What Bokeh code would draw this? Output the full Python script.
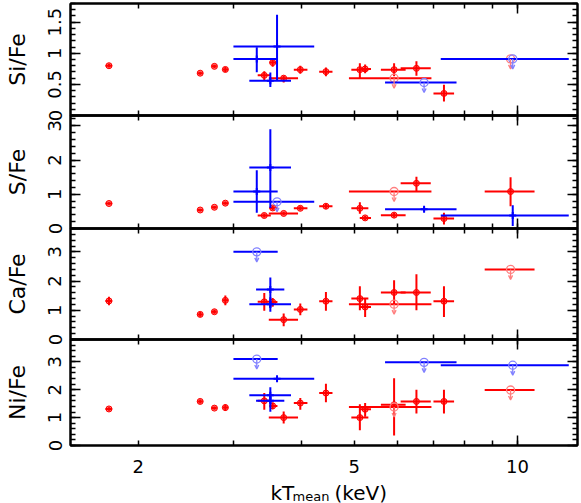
import numpy as np
from bokeh.plotting import figure
from bokeh.layouts import column
from bokeh.models import (ColumnDataSource, FixedTicker, LinearAxis, LogAxis,
                          Range1d, Label, Arrow, OpenHead, CustomJSTickFormatter)
from bokeh.embed import file_html
from bokeh.resources import INLINE

# ---------------- data ----------------
red_kT    = [1.766, 2.601, 2.763, 2.894, 3.414, 3.538, 3.707, 3.978, 4.435, 5.122, 5.238, 5.923, 6.512, 7.319, 5.923, 9.71]
red_kT_lo = [1.74, 2.57, 2.73, 2.86, 3.32, 3.49, 3.48, 3.87, 4.31, 4.94, 5.12, 5.60, 6.09, 7.00, 4.89, 8.70]
red_kT_hi = [1.79, 2.63, 2.79, 2.93, 3.51, 3.61, 3.94, 4.10, 4.56, 5.31, 5.37, 6.22, 6.92, 7.64, 6.94, 10.75]

blue_kT    = [3.307, 3.604, 3.503, 3.503, 6.727, 9.80]
blue_kT_lo = [2.995, 2.995, 3.204, 3.297, 5.70, 7.22]
blue_kT_hi = [3.614, 4.22, 3.824, 3.717, 7.72, 12.43]

# Si/Fe
si_red    = [0.80, 0.68, 0.79, 0.74, 0.645, 0.85, 0.60, 0.737, 0.705, 0.737, 0.748, 0.737, 0.758, 0.355, 0.60, 0.91]
si_red_lo = [0.77, 0.655, 0.765, 0.70, 0.57, 0.785, 0.53, 0.67, 0.63, 0.60, 0.68, 0.63, 0.64, 0.226, None, None]
si_red_hi = [0.83, 0.705, 0.815, 0.78, 0.71, 0.91, 0.64, 0.80, 0.77, 0.84, 0.82, 0.84, 0.87, 0.495, None, None]
si_red_ul = [0] * 14 + [1, 1]
si_blue    = [0.91, 1.108, 0.56, None, 0.53, 0.91]
si_blue_lo = [0.694, 0.56, 0.46, None, None, None]
si_blue_hi = [1.097, 1.62, 0.69, None, None, None]
si_blue_ul = [0, 0, 0, 0, 1, 1]

# S/Fe
s_red    = [0.73, 0.54, 0.62, 0.74, 0.38, 0.60, 0.44, 0.59, 0.65, 0.59, 0.31, 0.39, 1.32, 0.29, 1.08, 1.08]
s_red_lo = [0.69, 0.50, 0.58, 0.69, 0.32, 0.54, 0.39, 0.53, 0.58, 0.43, 0.25, 0.32, 1.09, 0.12, None, 0.65]
s_red_hi = [0.77, 0.58, 0.66, 0.79, 0.44, 0.66, 0.49, 0.65, 0.72, 0.77, 0.37, 0.46, 1.51, 0.46, None, 1.50]
s_red_ul = [0] * 14 + [1, 0]
s_blue    = [1.08, 0.78, 1.78, None, 0.56, 0.38]
s_blue_lo = [0.46, None, 0.60, None, 0.50, 0.07]
s_blue_hi = [1.70, None, 2.90, None, 0.62, 0.68]
s_blue_ul = [0, 1, 0, 0, 0, 0]

# Ca/Fe
ca_red    = [1.32, 0.86, 0.95, 1.34, 1.29, 1.28, 0.68, 1.03, 1.31, 1.40, 1.11, 1.61, 1.61, 1.31, 1.21, 2.40]
ca_red_lo = [1.17, 0.78, 0.88, 1.17, 0.98, 1.12, 0.45, 0.83, 0.98, 1.00, 0.77, 1.21, 1.00, 0.77, None, None]
ca_red_hi = [1.46, 0.94, 1.02, 1.51, 1.59, 1.42, 0.89, 1.23, 1.63, 1.82, 1.40, 2.03, 2.23, 1.82, None, None]
ca_red_ul = [0] * 14 + [1, 1]
ca_blue    = [3.00, None, 1.21, 1.71, None, None]
ca_blue_lo = [None, None, 0.95, 1.09, None, None]
ca_blue_hi = [None, None, 1.45, 2.12, None, None]
ca_blue_ul = [1, 0, 0, 0, 0, 0]

# Ni/Fe
ni_red    = [1.31, 1.58, 1.34, 1.36, 1.60, 1.42, 1.00, 1.52, 1.88, 1.00, 1.30, 1.46, 1.58, 1.58, 1.38, 1.99]
ni_red_lo = [1.25, 1.51, 1.28, 1.24, 1.28, 1.30, 0.79, 1.28, 1.55, 0.55, 1.03, 0.36, 1.15, 1.15, None, None]
ni_red_hi = [1.37, 1.65, 1.40, 1.48, 1.88, 1.54, 1.22, 1.70, 2.21, 1.48, 1.52, 2.41, 2.00, 2.00, None, None]
ni_red_ul = [0] * 14 + [1, 1]
ni_blue    = [3.10, 2.39, 1.80, 1.60, 2.98, 2.88]
ni_blue_lo = [None, 2.34, 1.50, 1.21, None, None]
ni_blue_hi = [None, 2.44, 2.09, 1.85, None, None]
ni_blue_ul = [1, 0, 0, 0, 1, 1]

x_ticks = [2, 3, 4, 5, 6, 7, 8, 9, 10]
x_tick_labels = {2: "2", 3: "", 4: "", 5: "5", 6: "", 7: "", 8: "", 9: "", 10: "10"}

# ---------------- styling ----------------
FONT = "DejaVu Sans"
RED, RED_L = "#ff0000", "#ff7f7f"
BLUE, BLUE_L = "#0000ff", "#8080ff"
B = 14          # overlapping inner borders
ARROW_PX = 10
LEFT, RIGHT = 70, 4
W = LEFT + 507 + RIGHT

x_range = Range1d(1.5, 12.9)
blank = CustomJSTickFormatter(code="return ''")


def style_x_axis(ax, labels):
    ax.ticker = FixedTicker(ticks=x_ticks, minor_ticks=[10])
    ax.major_tick_in = 5
    ax.major_tick_out = 0
    ax.minor_tick_in = 10
    ax.minor_tick_out = 0
    ax.major_tick_line_width = 1.5
    ax.minor_tick_line_width = 1.5
    ax.axis_line_width = 2
    if labels:
        ax.major_label_overrides = x_tick_labels
        ax.major_label_text_font = FONT
        ax.major_label_text_font_size = "18px"
        ax.major_label_text_color = "black"
        ax.major_label_standoff = 14
    else:
        ax.formatter = blank
        ax.major_label_text_font_size = "0px"
        ax.major_label_standoff = 0


def style_y_axis(ax, major, minor, overrides, labels, title=None):
    ax.ticker = FixedTicker(ticks=major, minor_ticks=minor)
    ax.major_tick_in = 10
    ax.major_tick_out = 0
    ax.minor_tick_in = 5
    ax.minor_tick_out = 0
    ax.major_tick_line_width = 1.5
    ax.minor_tick_line_width = 1.5
    ax.axis_line_width = 2
    if labels:
        if overrides:
            ax.major_label_overrides = overrides
        ax.major_label_orientation = "vertical"
        ax.major_label_text_font = FONT
        ax.major_label_text_font_size = "18px"
        ax.major_label_text_color = "black"
        ax.major_label_standoff = 9
        ax.axis_label = title
        ax.axis_label_text_font = FONT
        ax.axis_label_text_font_size = "22px"
        ax.axis_label_text_font_style = "normal"
        ax.axis_label_text_color = "black"
        ax.axis_label_standoff = 16
    else:
        ax.formatter = blank
        ax.major_label_text_font_size = "0px"
        ax.major_label_standoff = 0


def draw_series(p, kT, klo, khi, val, lo, hi, ul, color, light, L, circ):
    det = [i for i in range(len(kT)) if val[i] is not None and not ul[i]]
    lim = [i for i in range(len(kT)) if val[i] is not None and ul[i]]
    allp = det + lim
    hs = ColumnDataSource(dict(x0=[klo[i] for i in allp], x1=[khi[i] for i in allp],
                               y=[val[i] for i in allp]))
    p.segment(x0="x0", x1="x1", y0="y", y1="y", source=hs, line_color=color, line_width=2)
    vs = ColumnDataSource(dict(x=[kT[i] for i in det], y0=[lo[i] for i in det],
                               y1=[hi[i] for i in det], y=[val[i] for i in det]))
    p.segment(x0="x", x1="x", y0="y0", y1="y1", source=vs, line_color=color, line_width=2)
    if circ:
        p.scatter(x="x", y="y", source=vs, marker="circle", size=6, fill_color=color,
                  fill_alpha=0.55, line_color=color, line_width=1)
    else:
        p.scatter(x="x", y="y", source=vs, marker="cross", size=7, line_color=color, line_width=2)
    us = ColumnDataSource(dict(x=[kT[i] for i in lim], y=[val[i] for i in lim],
                               ye=[val[i] - L for i in lim]))
    p.scatter(x="x", y="y", source=us, marker="circle", size=8, fill_color=None,
              line_color=light, line_width=1.3)
    p.add_layout(Arrow(source=us, x_start="x", y_start="y", x_end="x", y_end="ye",
                       line_color=light, line_width=1.3,
                       end=OpenHead(size=4, line_color=light, line_width=1.3)))


def make_panel(title, y_end, major, minor, overrides, frame_h, top_b, bottom_b, margin,
               red, blue, bottom_labels):
    p = figure(width=W, height=frame_h + top_b + bottom_b, x_axis_type="log",
               x_range=x_range, y_range=Range1d(0, y_end), output_backend="svg",
               toolbar_location=None, min_border_left=LEFT, min_border_right=RIGHT,
               min_border_top=top_b, min_border_bottom=bottom_b, margin=margin)
    p.background_fill_alpha = 0
    p.border_fill_alpha = 0
    p.outline_line_color = "black"
    p.outline_line_width = 2
    p.grid.visible = False
    style_x_axis(p.xaxis[0], bottom_labels)
    top = LogAxis()
    style_x_axis(top, False)
    p.add_layout(top, "above")
    style_y_axis(p.yaxis[0], major, minor, overrides, True, title)
    right = LinearAxis()
    style_y_axis(right, major, minor, None, False)
    p.add_layout(right, "right")
    L = ARROW_PX * y_end / frame_h
    draw_series(p, red_kT, red_kT_lo, red_kT_hi, *red, RED, RED_L, L, True)
    draw_series(p, blue_kT, blue_kT_lo, blue_kT_hi, *blue, BLUE, BLUE_L, L, False)
    return p


minor_01 = [round(0.1 * k, 2) for k in range(0, 19)]
minor_02 = [round(0.2 * k, 2) for k in range(0, 20)]

BOTTOM = 58
p_si = make_panel("Si/Fe", 1.8, [0, 0.5, 1, 1.5], minor_01,
                  {0: "0", 0.5: "0.5", 1: "1", 1.5: "1.5"}, 112, 3, B, (0, 0, 0, 0),
                  (si_red, si_red_lo, si_red_hi, si_red_ul),
                  (si_blue, si_blue_lo, si_blue_hi, si_blue_ul), False)
p_s = make_panel("S/Fe", 3.3, [0, 1, 2, 3], minor_02, None, 113, B, B, (-2 * B, 0, 0, 0),
                 (s_red, s_red_lo, s_red_hi, s_red_ul),
                 (s_blue, s_blue_lo, s_blue_hi, s_blue_ul), False)
p_ca = make_panel("Ca/Fe", 3.8, [0, 1, 2, 3], minor_02, None, 111, B, B, (-2 * B, 0, 0, 0),
                  (ca_red, ca_red_lo, ca_red_hi, ca_red_ul),
                  (ca_blue, ca_blue_lo, ca_blue_hi, ca_blue_ul), False)
p_ni = make_panel("Ni/Fe", 3.8, [0, 1, 2, 3], minor_02, None, 106, B, BOTTOM, (-2 * B, 0, 0, 0),
                  (ni_red, ni_red_lo, ni_red_hi, ni_red_ul),
                  (ni_blue, ni_blue_lo, ni_blue_hi, ni_blue_ul), True)

# strip carrying the x-axis title (overlaps the bottom border of the Ni panel)
strip = figure(width=W, height=BOTTOM, x_range=Range1d(0, 1), y_range=Range1d(0, 1),
               output_backend="svg", toolbar_location=None, min_border=0,
               x_axis_location=None, y_axis_location=None, margin=(-BOTTOM, 0, 0, 0))
strip.background_fill_alpha = 0
strip.border_fill_alpha = 0
strip.outline_line_color = None
strip.grid.visible = False
lab = dict(x_units="screen", y_units="screen", text_font=FONT, text_color="black",
           text_baseline="alphabetic", text_align="left")
strip.add_layout(Label(x=200, y=11, text="kT", text_font_size="20px", **lab))
strip.add_layout(Label(x=222, y=7, text="mean", text_font_size="13px", **lab))
strip.add_layout(Label(x=264, y=11, text="(keV)", text_font_size="20px", **lab))

layout = column(p_si, p_s, p_ca, p_ni, strip, spacing=0)
open("out.html", "w").write(file_html(layout, INLINE))
